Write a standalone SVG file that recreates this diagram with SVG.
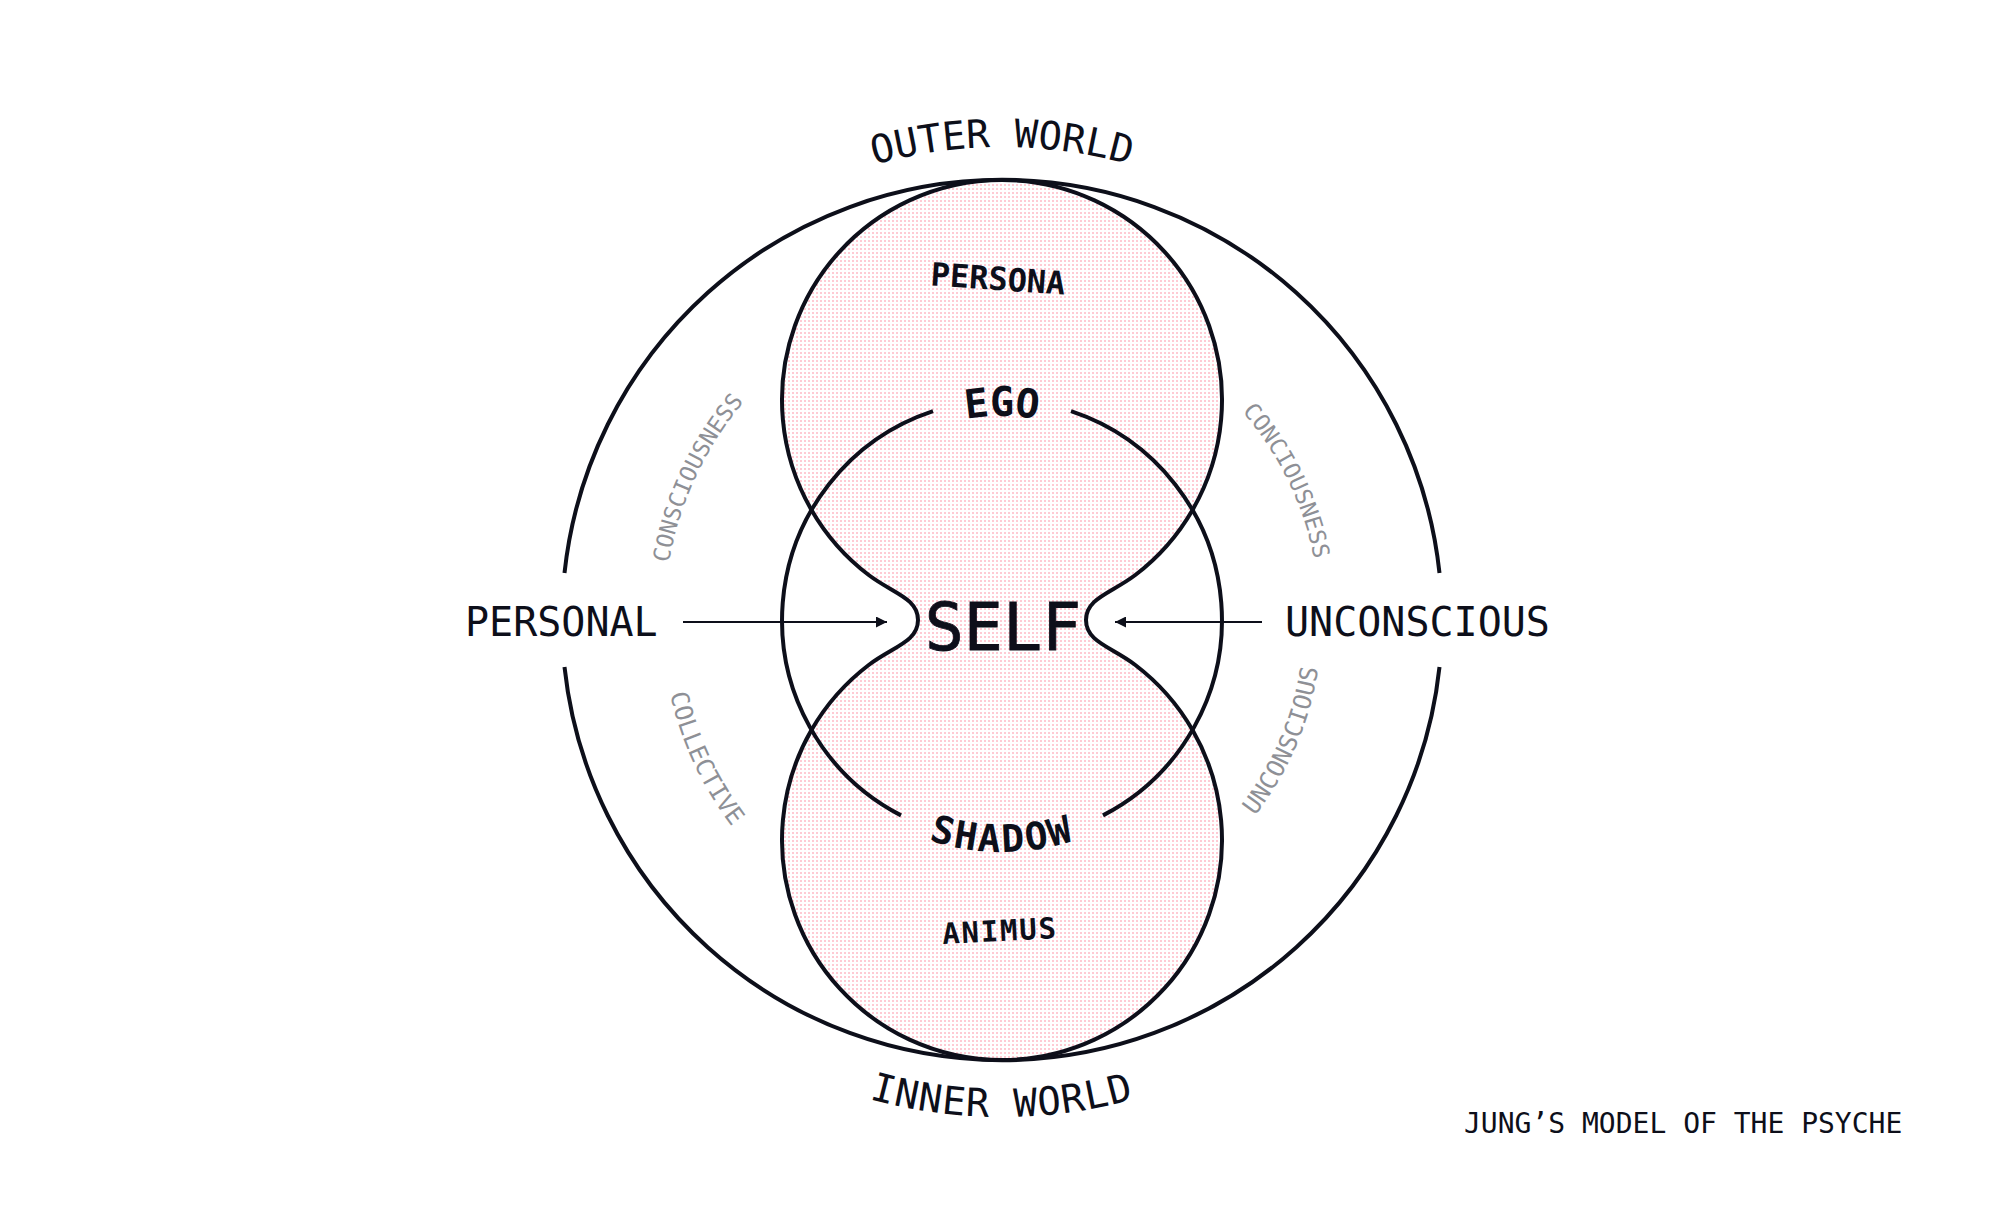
<svg xmlns="http://www.w3.org/2000/svg" width="2001" height="1206" viewBox="0 0 2001 1206">
<style>
.ln{fill:none;stroke:#0d0f1a;stroke-width:4}
.fillshape{fill:url(#dots);stroke:#0d0f1a;stroke-width:4}
.ar{fill:none;stroke:#0d0f1a;stroke-width:2}
.t{font-family:"DejaVu Sans Mono","Liberation Mono",monospace;fill:#0d0f1a}
.b{font-weight:bold}
.g{fill:#8e9096;font-size:23px}
.g2{fill:#8e9096;font-size:24.5px}
</style>
<defs>
<pattern id="dots" width="4" height="4" patternUnits="userSpaceOnUse">
<rect x="0" y="0" width="4" height="4" fill="#ffffff"/>
<rect x="0" y="0" width="2" height="2" fill="#fecbd4"/>
</pattern>
<marker id="ah" viewBox="0 0 10 10" refX="10" refY="5" markerWidth="11" markerHeight="11" markerUnits="userSpaceOnUse" orient="auto">
<path d="M0,0 L10,5 L0,10 z" fill="#0d0f1a"/>
</marker>
<path id="pOuter" d="M 698 257.7 A 473 473 0 0 1 1306 257.7"/>
<path id="pInner" d="M 621.3 939.5 A 497 497 0 0 0 1382.7 939.5"/>
<path id="pEgo" d="M 900 443.3 A 204 204 0 0 1 1104 443.3"/>
<path id="pShadow" d="M 801.1 736 A 232 232 0 0 0 1202.9 736"/>
<path id="pCons" d="M 675.5 707.5 A 338 338 0 0 1 859.2 313.7"/>
<path id="pConc" d="M 1131.3 329.5 A 318 318 0 0 1 1310.6 696.9"/>
<path id="pColl" d="M 673.6 532 A 340 340 0 0 0 858.3 928.1"/>
<path id="pUnc" d="M 1146.3 905.6 A 320 320 0 0 0 1308.3 527.5"/>
</defs>
<rect width="2001" height="1206" fill="#ffffff"/>

<g id="persona-animus">
<path class="fillshape" d="M 868.7 575 A 220 220 0 1 1 1135.3 575 C 1111.4 593.2 1086 598 1086 620 C 1086 642 1111.4 646.8 1135.3 665 A 220 220 0 1 1 868.7 665 C 892.6 646.8 918 642 918 620 C 918 598 892.6 593.2 868.7 575 Z"/>
</g>

<g id="outer-world">
<path class="ln" d="M 564.5 573 A 440 440 0 0 1 1439.5 573"/>
<path class="ln" d="M 1439.5 667 A 440 440 0 0 1 564.5 667"/>
<text class="t" font-size="39"><textPath href="#pOuter" startOffset="50%" text-anchor="middle">OUTER WORLD</textPath></text>
<text class="t" font-size="39" letter-spacing="1"><textPath href="#pInner" startOffset="50%" text-anchor="middle">INNER WORLD</textPath></text>
</g>

<g id="self-circle">
<path class="ln" d="M 1071 411.1 A 220 220 0 0 1 1103 815.4"/>
<path class="ln" d="M 901 815.4 A 220 220 0 0 1 933 411.1"/>
</g>

<g id="persona">
<text class="t b" font-size="32" x="998" y="290" text-anchor="middle" transform="rotate(4 998 280)">PERSONA</text>
</g>
<g id="ego">
<text class="t b" font-size="40"><textPath href="#pEgo" startOffset="50%" text-anchor="middle">EGO</textPath></text>
</g>
<g id="self">
<text class="t" font-size="65" x="1003" y="650" text-anchor="middle" stroke="#0d0f1a" stroke-width="0.8">SELF</text>
</g>
<g id="shadow">
<text class="t b" font-size="38" letter-spacing="2"><textPath href="#pShadow" startOffset="50%" text-anchor="middle">SHADOW</textPath></text>
</g>
<g id="animus">
<text class="t b" font-size="29" letter-spacing="1.8" x="1000" y="941" text-anchor="middle" transform="rotate(-3 1000 932)">ANIMUS</text>
</g>

<g id="personal">
<text class="t" font-size="40" x="465" y="636">PERSONAL</text>
</g>
<g id="unconscious">
<text class="t" font-size="40" x="1285" y="636">UNCONSCIOUS</text>
</g>

<g id="side-labels">
<text class="t g"><textPath href="#pCons" startOffset="50%" text-anchor="middle">CONSCIOUSNESS</textPath></text>
<text class="t g"><textPath href="#pConc" startOffset="50%" text-anchor="middle">CONCIOUSNESS</textPath></text>
<text class="t g2"><textPath href="#pColl" startOffset="50%" text-anchor="middle">COLLECTIVE</textPath></text>
<text class="t g2"><textPath href="#pUnc" startOffset="50%" text-anchor="middle">UNCONSCIOUS</textPath></text>
</g>

<g id="connectors">
<line class="ar" x1="683" y1="622" x2="887" y2="622" marker-end="url(#ah)"/>
<line class="ar" x1="1262" y1="622" x2="1115" y2="622" marker-end="url(#ah)"/>
</g>

<g id="title">
<text class="t" font-size="28" x="1464" y="1133">JUNG’S MODEL OF THE PSYCHE</text>
</g>
</svg>
